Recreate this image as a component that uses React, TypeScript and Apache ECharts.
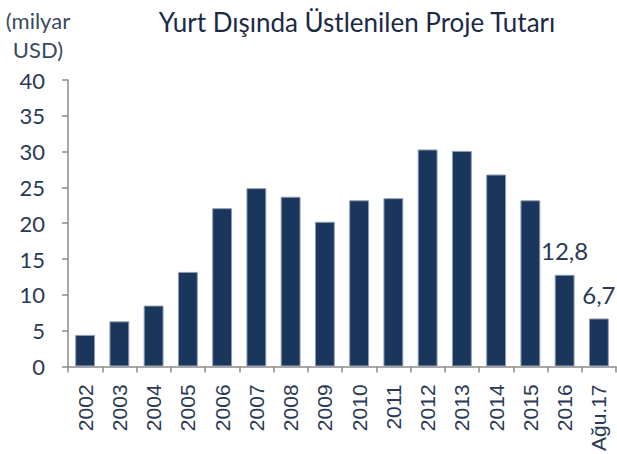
import React, { useEffect, useRef } from "react";
import * as echarts from "echarts";

const categories = ["2002","2003","2004","2005","2006","2007","2008","2009","2010","2011","2012","2013","2014","2015","2016","Ağu.17"];
const values = [4.4, 6.3, 8.5, 13.2, 22.1, 24.9, 23.7, 20.2, 23.2, 23.5, 30.3, 30.1, 26.8, 23.2, 12.8, 6.7];
const labelledIndices = [14, 15];
const titleText = "Yurt Dışında Üstlenilen Proje Tutarı";
const unitText = "(milyar\nUSD)";

export default function App() {
  const ref = useRef<HTMLDivElement>(null);
  useEffect(() => {
    if (!ref.current) return;
    const chart = echarts.init(ref.current, null, { renderer: "svg" });
    const textColor = "#2b3a55";
    chart.setOption({
      animation: false,
      backgroundColor: "#ffffff",
      title: {
        text: titleText,
        left: 352,
        textAlign: "center",
        top: 4,
        textStyle: { fontFamily: "Lato", fontSize: 26, fontWeight: "normal", color: "#1b2a44" },
      },
      graphic: [
        {
          type: "text",
          x: 38,
          y: 6,
          style: {
            text: unitText,
            fontFamily: "Lato",
            fontSize: 22,
            lineHeight: 29,
            fill: "#3a4a60",
            align: "center",
            verticalAlign: "top",
          },
        },
      ],
      grid: { left: 68, right: 1, top: 80, bottom: 86, containLabel: false },
      xAxis: {
        type: "category",
        data: categories,
        axisLine: { lineStyle: { color: "#8c8c8c", width: 1.5 } },
        axisTick: { show: true, length: 6, lineStyle: { color: "#8c8c8c", width: 1.5 } },
        axisLabel: {
          rotate: 90,
          margin: 18,
          fontFamily: "Liberation Sans",
          fontSize: 21,
          color: textColor,
          interval: 0,
        },
      },
      yAxis: {
        type: "value",
        min: 0,
        max: 40,
        interval: 5,
        splitLine: { show: false },
        axisLine: { show: true, lineStyle: { color: "#8c8c8c", width: 1.5 } },
        axisTick: { show: true, length: 6, lineStyle: { color: "#8c8c8c", width: 1.5 } },
        axisLabel: { margin: 23, fontFamily: "Lato", fontSize: 22, color: textColor },
      },
      series: [
        {
          type: "bar",
          data: values.map((v, i) => ({
            value: v,
            label: labelledIndices.includes(i)
              ? {
                  show: true,
                  position: "top",
                  distance: 12,
                  fontFamily: "Lato",
                  fontSize: 24,
                  color: textColor,
                  formatter: () => String(v).replace(".", ","),
                }
              : { show: false },
          })),
          barWidth: "58%",
          itemStyle: { color: "#1b365d", borderColor: "#8f9db2", borderWidth: 1 },
        },
      ],
    });
    return () => chart.dispose();
  }, []);
  return <div ref={ref} style={{ position: "fixed", left: 0, top: 0, width: 617, height: 454 }} />;
}
